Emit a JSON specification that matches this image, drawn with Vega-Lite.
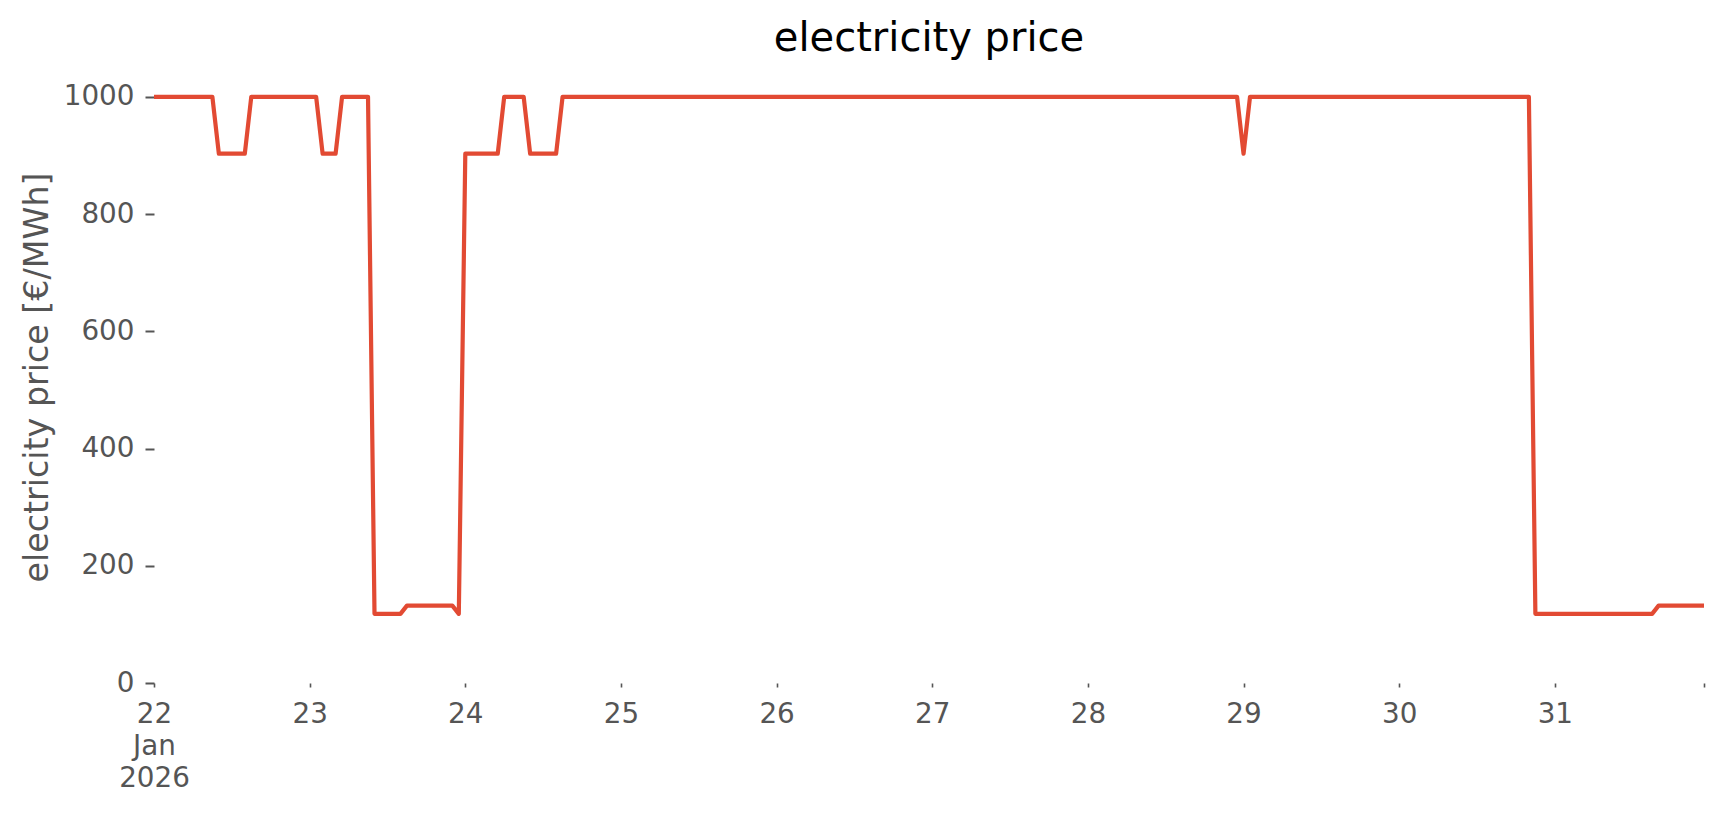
{
"$schema":"https://vega.github.io/schema/vega-lite/v6.json",
"width":1550,"height":612,
"autosize":{"type":"none"},
"padding":{"left":154,"top":71,"right":20,"bottom":132},
"background":"white",
"title":{"text":"electricity price","font":"DejaVu Sans","fontSize":40,"fontWeight":"normal","color":"#000000","anchor":"middle","baseline":"bottom","offset":12,"dy":40},
"config":{"view":{"stroke":null},"font":"DejaVu Sans"},
"data":{"values":[
{"time":"2026-01-22T00:00:00Z","price":1000},{"time":"2026-01-22T01:00:00Z","price":1000},{"time":"2026-01-22T02:00:00Z","price":1000},{"time":"2026-01-22T03:00:00Z","price":1000},{"time":"2026-01-22T04:00:00Z","price":1000},{"time":"2026-01-22T05:00:00Z","price":1000},{"time":"2026-01-22T06:00:00Z","price":1000},{"time":"2026-01-22T07:00:00Z","price":1000},{"time":"2026-01-22T08:00:00Z","price":1000},{"time":"2026-01-22T09:00:00Z","price":1000},{"time":"2026-01-22T10:00:00Z","price":903},{"time":"2026-01-22T11:00:00Z","price":903},{"time":"2026-01-22T12:00:00Z","price":903},{"time":"2026-01-22T13:00:00Z","price":903},{"time":"2026-01-22T14:00:00Z","price":903},{"time":"2026-01-22T15:00:00Z","price":1000},{"time":"2026-01-22T16:00:00Z","price":1000},{"time":"2026-01-22T17:00:00Z","price":1000},{"time":"2026-01-22T18:00:00Z","price":1000},{"time":"2026-01-22T19:00:00Z","price":1000},{"time":"2026-01-22T20:00:00Z","price":1000},{"time":"2026-01-22T21:00:00Z","price":1000},{"time":"2026-01-22T22:00:00Z","price":1000},{"time":"2026-01-22T23:00:00Z","price":1000},
{"time":"2026-01-23T00:00:00Z","price":1000},{"time":"2026-01-23T01:00:00Z","price":1000},{"time":"2026-01-23T02:00:00Z","price":903},{"time":"2026-01-23T03:00:00Z","price":903},{"time":"2026-01-23T04:00:00Z","price":903},{"time":"2026-01-23T05:00:00Z","price":1000},{"time":"2026-01-23T06:00:00Z","price":1000},{"time":"2026-01-23T07:00:00Z","price":1000},{"time":"2026-01-23T08:00:00Z","price":1000},{"time":"2026-01-23T09:00:00Z","price":1000},{"time":"2026-01-23T10:00:00Z","price":118},{"time":"2026-01-23T11:00:00Z","price":118},{"time":"2026-01-23T12:00:00Z","price":118},{"time":"2026-01-23T13:00:00Z","price":118},{"time":"2026-01-23T14:00:00Z","price":118},{"time":"2026-01-23T15:00:00Z","price":132},{"time":"2026-01-23T16:00:00Z","price":132},{"time":"2026-01-23T17:00:00Z","price":132},{"time":"2026-01-23T18:00:00Z","price":132},{"time":"2026-01-23T19:00:00Z","price":132},{"time":"2026-01-23T20:00:00Z","price":132},{"time":"2026-01-23T21:00:00Z","price":132},{"time":"2026-01-23T22:00:00Z","price":132},{"time":"2026-01-23T23:00:00Z","price":118},
{"time":"2026-01-24T00:00:00Z","price":903},{"time":"2026-01-24T01:00:00Z","price":903},{"time":"2026-01-24T02:00:00Z","price":903},{"time":"2026-01-24T03:00:00Z","price":903},{"time":"2026-01-24T04:00:00Z","price":903},{"time":"2026-01-24T05:00:00Z","price":903},{"time":"2026-01-24T06:00:00Z","price":1000},{"time":"2026-01-24T07:00:00Z","price":1000},{"time":"2026-01-24T08:00:00Z","price":1000},{"time":"2026-01-24T09:00:00Z","price":1000},{"time":"2026-01-24T10:00:00Z","price":903},{"time":"2026-01-24T11:00:00Z","price":903},{"time":"2026-01-24T12:00:00Z","price":903},{"time":"2026-01-24T13:00:00Z","price":903},{"time":"2026-01-24T14:00:00Z","price":903},{"time":"2026-01-24T15:00:00Z","price":1000},{"time":"2026-01-24T16:00:00Z","price":1000},{"time":"2026-01-24T17:00:00Z","price":1000},{"time":"2026-01-24T18:00:00Z","price":1000},{"time":"2026-01-24T19:00:00Z","price":1000},{"time":"2026-01-24T20:00:00Z","price":1000},{"time":"2026-01-24T21:00:00Z","price":1000},{"time":"2026-01-24T22:00:00Z","price":1000},{"time":"2026-01-24T23:00:00Z","price":1000},
{"time":"2026-01-25T00:00:00Z","price":1000},{"time":"2026-01-25T01:00:00Z","price":1000},{"time":"2026-01-25T02:00:00Z","price":1000},{"time":"2026-01-25T03:00:00Z","price":1000},{"time":"2026-01-25T04:00:00Z","price":1000},{"time":"2026-01-25T05:00:00Z","price":1000},{"time":"2026-01-25T06:00:00Z","price":1000},{"time":"2026-01-25T07:00:00Z","price":1000},{"time":"2026-01-25T08:00:00Z","price":1000},{"time":"2026-01-25T09:00:00Z","price":1000},{"time":"2026-01-25T10:00:00Z","price":1000},{"time":"2026-01-25T11:00:00Z","price":1000},{"time":"2026-01-25T12:00:00Z","price":1000},{"time":"2026-01-25T13:00:00Z","price":1000},{"time":"2026-01-25T14:00:00Z","price":1000},{"time":"2026-01-25T15:00:00Z","price":1000},{"time":"2026-01-25T16:00:00Z","price":1000},{"time":"2026-01-25T17:00:00Z","price":1000},{"time":"2026-01-25T18:00:00Z","price":1000},{"time":"2026-01-25T19:00:00Z","price":1000},{"time":"2026-01-25T20:00:00Z","price":1000},{"time":"2026-01-25T21:00:00Z","price":1000},{"time":"2026-01-25T22:00:00Z","price":1000},{"time":"2026-01-25T23:00:00Z","price":1000},
{"time":"2026-01-26T00:00:00Z","price":1000},{"time":"2026-01-26T01:00:00Z","price":1000},{"time":"2026-01-26T02:00:00Z","price":1000},{"time":"2026-01-26T03:00:00Z","price":1000},{"time":"2026-01-26T04:00:00Z","price":1000},{"time":"2026-01-26T05:00:00Z","price":1000},{"time":"2026-01-26T06:00:00Z","price":1000},{"time":"2026-01-26T07:00:00Z","price":1000},{"time":"2026-01-26T08:00:00Z","price":1000},{"time":"2026-01-26T09:00:00Z","price":1000},{"time":"2026-01-26T10:00:00Z","price":1000},{"time":"2026-01-26T11:00:00Z","price":1000},{"time":"2026-01-26T12:00:00Z","price":1000},{"time":"2026-01-26T13:00:00Z","price":1000},{"time":"2026-01-26T14:00:00Z","price":1000},{"time":"2026-01-26T15:00:00Z","price":1000},{"time":"2026-01-26T16:00:00Z","price":1000},{"time":"2026-01-26T17:00:00Z","price":1000},{"time":"2026-01-26T18:00:00Z","price":1000},{"time":"2026-01-26T19:00:00Z","price":1000},{"time":"2026-01-26T20:00:00Z","price":1000},{"time":"2026-01-26T21:00:00Z","price":1000},{"time":"2026-01-26T22:00:00Z","price":1000},{"time":"2026-01-26T23:00:00Z","price":1000},
{"time":"2026-01-27T00:00:00Z","price":1000},{"time":"2026-01-27T01:00:00Z","price":1000},{"time":"2026-01-27T02:00:00Z","price":1000},{"time":"2026-01-27T03:00:00Z","price":1000},{"time":"2026-01-27T04:00:00Z","price":1000},{"time":"2026-01-27T05:00:00Z","price":1000},{"time":"2026-01-27T06:00:00Z","price":1000},{"time":"2026-01-27T07:00:00Z","price":1000},{"time":"2026-01-27T08:00:00Z","price":1000},{"time":"2026-01-27T09:00:00Z","price":1000},{"time":"2026-01-27T10:00:00Z","price":1000},{"time":"2026-01-27T11:00:00Z","price":1000},{"time":"2026-01-27T12:00:00Z","price":1000},{"time":"2026-01-27T13:00:00Z","price":1000},{"time":"2026-01-27T14:00:00Z","price":1000},{"time":"2026-01-27T15:00:00Z","price":1000},{"time":"2026-01-27T16:00:00Z","price":1000},{"time":"2026-01-27T17:00:00Z","price":1000},{"time":"2026-01-27T18:00:00Z","price":1000},{"time":"2026-01-27T19:00:00Z","price":1000},{"time":"2026-01-27T20:00:00Z","price":1000},{"time":"2026-01-27T21:00:00Z","price":1000},{"time":"2026-01-27T22:00:00Z","price":1000},{"time":"2026-01-27T23:00:00Z","price":1000},
{"time":"2026-01-28T00:00:00Z","price":1000},{"time":"2026-01-28T01:00:00Z","price":1000},{"time":"2026-01-28T02:00:00Z","price":1000},{"time":"2026-01-28T03:00:00Z","price":1000},{"time":"2026-01-28T04:00:00Z","price":1000},{"time":"2026-01-28T05:00:00Z","price":1000},{"time":"2026-01-28T06:00:00Z","price":1000},{"time":"2026-01-28T07:00:00Z","price":1000},{"time":"2026-01-28T08:00:00Z","price":1000},{"time":"2026-01-28T09:00:00Z","price":1000},{"time":"2026-01-28T10:00:00Z","price":1000},{"time":"2026-01-28T11:00:00Z","price":1000},{"time":"2026-01-28T12:00:00Z","price":1000},{"time":"2026-01-28T13:00:00Z","price":1000},{"time":"2026-01-28T14:00:00Z","price":1000},{"time":"2026-01-28T15:00:00Z","price":1000},{"time":"2026-01-28T16:00:00Z","price":1000},{"time":"2026-01-28T17:00:00Z","price":1000},{"time":"2026-01-28T18:00:00Z","price":1000},{"time":"2026-01-28T19:00:00Z","price":1000},{"time":"2026-01-28T20:00:00Z","price":1000},{"time":"2026-01-28T21:00:00Z","price":1000},{"time":"2026-01-28T22:00:00Z","price":1000},{"time":"2026-01-28T23:00:00Z","price":1000},
{"time":"2026-01-29T00:00:00Z","price":903},{"time":"2026-01-29T01:00:00Z","price":1000},{"time":"2026-01-29T02:00:00Z","price":1000},{"time":"2026-01-29T03:00:00Z","price":1000},{"time":"2026-01-29T04:00:00Z","price":1000},{"time":"2026-01-29T05:00:00Z","price":1000},{"time":"2026-01-29T06:00:00Z","price":1000},{"time":"2026-01-29T07:00:00Z","price":1000},{"time":"2026-01-29T08:00:00Z","price":1000},{"time":"2026-01-29T09:00:00Z","price":1000},{"time":"2026-01-29T10:00:00Z","price":1000},{"time":"2026-01-29T11:00:00Z","price":1000},{"time":"2026-01-29T12:00:00Z","price":1000},{"time":"2026-01-29T13:00:00Z","price":1000},{"time":"2026-01-29T14:00:00Z","price":1000},{"time":"2026-01-29T15:00:00Z","price":1000},{"time":"2026-01-29T16:00:00Z","price":1000},{"time":"2026-01-29T17:00:00Z","price":1000},{"time":"2026-01-29T18:00:00Z","price":1000},{"time":"2026-01-29T19:00:00Z","price":1000},{"time":"2026-01-29T20:00:00Z","price":1000},{"time":"2026-01-29T21:00:00Z","price":1000},{"time":"2026-01-29T22:00:00Z","price":1000},{"time":"2026-01-29T23:00:00Z","price":1000},
{"time":"2026-01-30T00:00:00Z","price":1000},{"time":"2026-01-30T01:00:00Z","price":1000},{"time":"2026-01-30T02:00:00Z","price":1000},{"time":"2026-01-30T03:00:00Z","price":1000},{"time":"2026-01-30T04:00:00Z","price":1000},{"time":"2026-01-30T05:00:00Z","price":1000},{"time":"2026-01-30T06:00:00Z","price":1000},{"time":"2026-01-30T07:00:00Z","price":1000},{"time":"2026-01-30T08:00:00Z","price":1000},{"time":"2026-01-30T09:00:00Z","price":1000},{"time":"2026-01-30T10:00:00Z","price":1000},{"time":"2026-01-30T11:00:00Z","price":1000},{"time":"2026-01-30T12:00:00Z","price":1000},{"time":"2026-01-30T13:00:00Z","price":1000},{"time":"2026-01-30T14:00:00Z","price":1000},{"time":"2026-01-30T15:00:00Z","price":1000},{"time":"2026-01-30T16:00:00Z","price":1000},{"time":"2026-01-30T17:00:00Z","price":1000},{"time":"2026-01-30T18:00:00Z","price":1000},{"time":"2026-01-30T19:00:00Z","price":1000},{"time":"2026-01-30T20:00:00Z","price":1000},{"time":"2026-01-30T21:00:00Z","price":118},{"time":"2026-01-30T22:00:00Z","price":118},{"time":"2026-01-30T23:00:00Z","price":118},
{"time":"2026-01-31T00:00:00Z","price":118},{"time":"2026-01-31T01:00:00Z","price":118},{"time":"2026-01-31T02:00:00Z","price":118},{"time":"2026-01-31T03:00:00Z","price":118},{"time":"2026-01-31T04:00:00Z","price":118},{"time":"2026-01-31T05:00:00Z","price":118},{"time":"2026-01-31T06:00:00Z","price":118},{"time":"2026-01-31T07:00:00Z","price":118},{"time":"2026-01-31T08:00:00Z","price":118},{"time":"2026-01-31T09:00:00Z","price":118},{"time":"2026-01-31T10:00:00Z","price":118},{"time":"2026-01-31T11:00:00Z","price":118},{"time":"2026-01-31T12:00:00Z","price":118},{"time":"2026-01-31T13:00:00Z","price":118},{"time":"2026-01-31T14:00:00Z","price":118},{"time":"2026-01-31T15:00:00Z","price":118},{"time":"2026-01-31T16:00:00Z","price":132},{"time":"2026-01-31T17:00:00Z","price":132},{"time":"2026-01-31T18:00:00Z","price":132},{"time":"2026-01-31T19:00:00Z","price":132},{"time":"2026-01-31T20:00:00Z","price":132},{"time":"2026-01-31T21:00:00Z","price":132},{"time":"2026-01-31T22:00:00Z","price":132},{"time":"2026-01-31T23:00:00Z","price":132}
]},
"mark":{"type":"line","color":"#E24A33","strokeWidth":4.2,"strokeJoin":"round","clip":false},
"encoding":{
"x":{"field":"time","type":"temporal",
"scale":{"type":"utc","domain":[{"year":2026,"month":1,"date":22,"hours":0,"utc":true},{"year":2026,"month":1,"date":31,"hours":23,"utc":true}],"nice":false},
"axis":{"title":null,"domain":false,"grid":false,"tickColor":"#555555","tickSize":4,"tickWidth":1.6,
"values":[{"year":2026,"month":1,"date":22,"utc":true},{"year":2026,"month":1,"date":23,"utc":true},{"year":2026,"month":1,"date":24,"utc":true},{"year":2026,"month":1,"date":25,"utc":true},{"year":2026,"month":1,"date":26,"utc":true},{"year":2026,"month":1,"date":27,"utc":true},{"year":2026,"month":1,"date":28,"utc":true},{"year":2026,"month":1,"date":29,"utc":true},{"year":2026,"month":1,"date":30,"utc":true},{"year":2026,"month":1,"date":31,"utc":true},{"year":2026,"month":1,"date":31,"hours":23,"utc":true}],
"labelExpr":"utchours(datum.value) == 23 ? '' : (utcdate(datum.value) == 22 ? ['22','Jan','2026'] : utcFormat(datum.value, '%d'))",
"labelFont":"DejaVu Sans","labelFontSize":27.8,"labelColor":"#555555","labelPadding":13,"labelLineHeight":32,"labelOverlap":false,"labelFlush":false,"labelAlign":"center","labelBaseline":"top"}},
"y":{"field":"price","type":"quantitative",
"scale":{"domain":[0,1044],"nice":false,"zero":true},
"axis":{"title":"electricity price [€/MWh]","titleFont":"DejaVu Sans","titleFontSize":33.3,"titleFontWeight":"normal","titleColor":"#555555","titleAngle":-90,"titleX":-107,"titleY":306,"titleAlign":"center","titleBaseline":"alphabetic",
"domain":false,"grid":false,"values":[0,200,400,600,800,1000],"format":"d","tickColor":"#555555","tickSize":9,"tickWidth":2,
"labelFont":"DejaVu Sans","labelFontSize":27.8,"labelColor":"#555555","labelPadding":11,"labelOverlap":false,"labelFlush":false}}
}
}
